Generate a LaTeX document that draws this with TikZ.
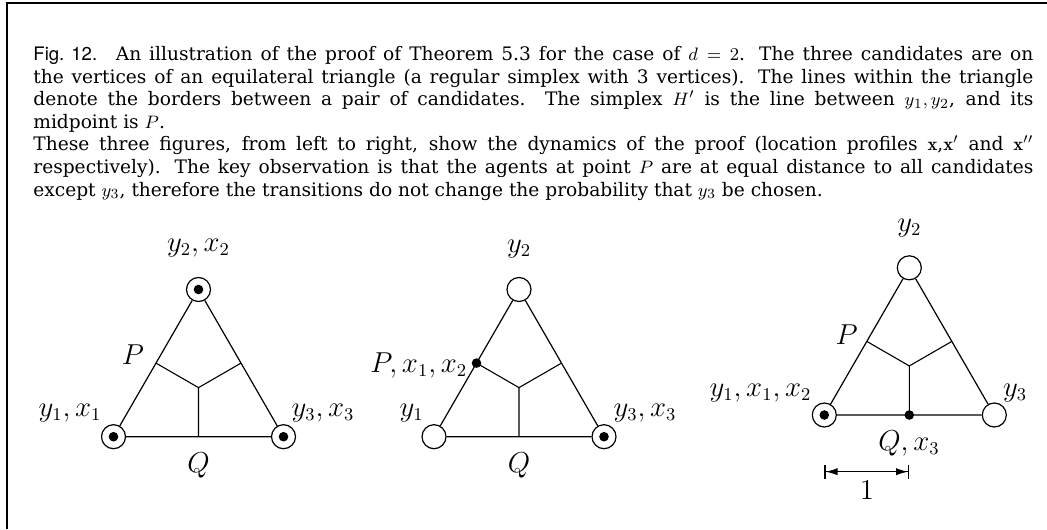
\documentclass[tikz,border=0pt]{standalone}
\usepackage{fontspec}
\usepackage{amsmath}
\usetikzlibrary{arrows.meta,positioning,calc}
\newfontfamily\capfont{DejaVu Serif}
\newfontfamily\figsans{TeX Gyre Heros}
\newcommand{\capsize}{\fontsize{9.3}{11.3}\selectfont}
\newcommand{\labsize}{\fontsize{13.5}{15}\selectfont}

\begin{document}
\begin{tikzpicture}[x=0.5pt,y=-0.5pt,
    cand/.style={circle,draw,line width=0.6pt,minimum size=12pt,inner sep=0pt,fill=white},
    agent/.style={circle,fill,minimum size=4.8pt,inner sep=0pt},
    lab/.style={inner sep=0pt,font=\labsize},
    side/.style={line width=0.6pt},
    border/.style={line width=0.55pt},
    frame/.style={line width=1pt},
    dim/.style={line width=0.6pt,{Bar[width=7pt]Latex[length=6pt,width=3.6pt]}-{Latex[length=6pt,width=3.6pt]Bar[width=7pt]}}
  ]
  \useasboundingbox (0,0) rectangle (1047,529);
  \draw[frame] (7.3,529) -- (7.3,3.3) -- (1047,3.3);

  % caption
  \node[anchor=north west,text width=500pt,align=justify,inner sep=0pt,font=\capsize\capfont] (cap) at (33,46)
    {\tolerance=10000\hyphenpenalty=10000
     {\figsans Fig.~12.}\quad An illustration of the proof of Theorem 5.3 for the case of $d=2$. The three candidates are on\linebreak
     the vertices of an equilateral triangle (a regular simplex with 3 vertices). The lines within the triangle\linebreak
     denote the borders between a pair of candidates. The simplex $H'$ is the line between $y_1,y_2$, and its\linebreak
     midpoint is $P$.\par
     These three figures, from left to right, show the dynamics of the proof (location profiles $\mathbf{x}$,$\mathbf{x}'$ and $\mathbf{x}''$\linebreak
     respectively). The key observation is that the agents at point $P$ are at equal distance to all candidates\linebreak
     except $y_3$, therefore the transitions do not change the probability that $y_3$ be chosen.};

  % profile x
  \node[cand] (l1) at (113.5,436.7) {};
  \node[cand] (r1) at (283.5,436.7) {};
  \node[cand] (t1) at (198.5,289.5) {};
  \draw[side] (l1) -- (t1) -- (r1) -- (l1);
  \coordinate (p1) at ($(l1)!0.5!(t1)$);
  \coordinate (s1) at ($(r1)!0.5!(t1)$);
  \coordinate (q1) at ($(l1)!0.5!(r1)$);
  \coordinate (o1) at ($(q1)!1/3!(t1)$);
  \draw[border] (p1) -- (o1) -- (s1) (o1) -- (q1);
  \node[agent] (a11) at (l1) {};
  \node[agent] (a21) at (t1) {};
  \node[agent] (a31) at (r1) {};
  \node[lab] at (198.5,248) {$y_2,x_2$};
  \node[lab] at (70,413) {$y_1,x_1$};
  \node[lab] at (323,413) {$y_3,x_3$};
  \node[lab] at (133,355) {$P$};
  \node[lab] at (198.5,465) {$Q$};

  % profile x'
  \node[cand] (l2) at (434,436.7) {};
  \node[cand] (r2) at (604,436.7) {};
  \node[cand] (t2) at (519,289.5) {};
  \draw[side] (l2) -- (t2) -- (r2) -- (l2);
  \coordinate (p2) at ($(l2)!0.5!(t2)$);
  \coordinate (s2) at ($(r2)!0.5!(t2)$);
  \coordinate (q2) at ($(l2)!0.5!(r2)$);
  \coordinate (o2) at ($(q2)!1/3!(t2)$);
  \draw[border] (p2) -- (o2) -- (s2) (o2) -- (q2);
  \node[agent] (a12) at (p2) {};
  \node[agent] (a32) at (r2) {};
  \node[lab] at (519,249) {$y_2$};
  \node[lab] at (411.7,413) {$y_1$};
  \node[lab] at (645,413) {$y_3,x_3$};
  \node[lab] at (418.8,365) {$P,x_1,x_2$};
  \node[lab] at (519,465) {$Q$};

  % profile x''
  \node[cand] (l3) at (824.3,415) {};
  \node[cand] (r3) at (994.3,415) {};
  \node[cand] (t3) at (909.3,267.8) {};
  \draw[side] (l3) -- (t3) -- (r3) -- (l3);
  \coordinate (p3) at ($(l3)!0.5!(t3)$);
  \coordinate (s3) at ($(r3)!0.5!(t3)$);
  \coordinate (q3) at ($(l3)!0.5!(r3)$);
  \coordinate (o3) at ($(q3)!1/3!(t3)$);
  \draw[border] (p3) -- (o3) -- (s3) (o3) -- (q3);
  \node[agent] (a13) at (l3) {};
  \node[agent] (a33) at (q3) {};
  \node[lab] at (909.3,228) {$y_2$};
  \node[lab] at (846.7,335) {$P$};
  \node[lab] at (760.5,393) {$y_1,x_1,x_2$};
  \node[lab] at (1015,393) {$y_3$};
  \node[lab] at (909,443) {$Q,x_3$};

  % unit length
  \coordinate (u1) at (824.3,471.7);
  \coordinate (u2) at (909.3,471.7);
  \draw[dim] (u1) -- (u2);
  \node[lab] (one) at (866.8,490) {$1$};
\end{tikzpicture}
\end{document}
